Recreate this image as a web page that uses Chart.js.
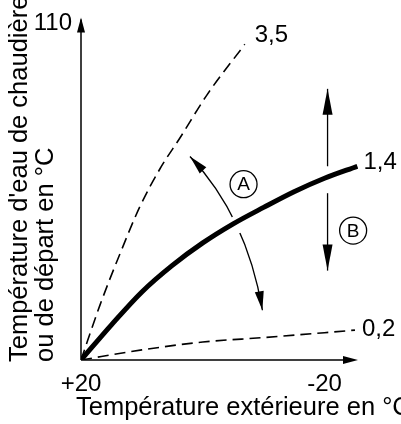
<!DOCTYPE html>
<html>
<head>
<meta charset="utf-8">
<script src="https://cdn.jsdelivr.net/npm/chart.js@4.4.1/dist/chart.umd.min.js"></script>
<style>
  html, body { margin: 0; padding: 0; background: #fff; }
  #wrap { width: 401px; height: 424px; }
</style>
</head>
<body>
<div id="wrap"><canvas id="myChart" width="401" height="424"></canvas></div>
<script>
// heating curves, outdoor temp -> boiler / flow temp
const outdoorSteep = [20, 16.9, 13.6, 10.3, 7, 3.7, -0.7, -6.9];
const flowSteep = [20, 34.6, 48.4, 61.1, 71.2, 79.5, 90.9, 104.4];
const outdoorMid = [20, 15, 10, 5, 0, -5, -10, -15, -20, -25.4];
const flowMid = [20, 29.4, 38.2, 45.3, 51.3, 56.4, 60.8, 65, 68.6, 71.8];
const outdoorFlat = [20, 10, 0, -10, -20, -25];
const flowFlat = [20, 22.7, 24.8, 26, 27.3, 28];
const curveLabels = ["3,5", "1,4", "0,2"];
const xTicks = [20, -20];
const yTicks = [110];
const xTitle = "Température extérieure en °C";
const yTitle = ["Température d'eau de chaudière", "ou de départ en °C"];

const FONT = "'Liberation Sans', Arial, sans-serif";

function points(xs, ys) {
    let pts = [];
    for (let i = 0; i < xs.length; i++) {
        pts.push({ x: xs[i], y: ys[i] });
    }
    return pts;
}

function arrowHead(ctx, x, y, angle, len, width) {
    ctx.save();
    ctx.translate(x, y);
    ctx.rotate(angle);
    ctx.beginPath();
    ctx.moveTo(0, 0);
    ctx.lineTo(-len, width / 2);
    ctx.lineTo(-len, -width / 2);
    ctx.closePath();
    ctx.fill();
    ctx.restore();
}

function circled(ctx, x, y, letter) {
    ctx.beginPath();
    ctx.arc(x, y, 13.5, 0, Math.PI * 2);
    ctx.lineWidth = 1.3;
    ctx.stroke();
    ctx.font = "19px " + FONT;
    ctx.textAlign = "center";
    ctx.textBaseline = "middle";
    ctx.fillText(letter, x, y + 1);
}

// the A / B markers, in data units (outdoor temp, flow temp)
const markA = { from: [2.1, 74.4], ctrl: [-7.2, 58.4], to: [-9.8, 33.3], cross: [-5.6, 56.2], label: [-6.7, 67] };
const markB = { x: -20.5, upper: [71.8, 92.5], lower: [64.6, 43.9], label: [-24.7, 54.6] };

const diagramPlugin = {
    id: "diagram",
    beforeDatasetsDraw(chart) {
        const ctx = chart.ctx;
        const xs = chart.scales.x, ys = chart.scales.y;
        const px = (p) => [xs.getPixelForValue(p[0]), ys.getPixelForValue(p[1])];
        ctx.save();
        ctx.strokeStyle = "#000";
        ctx.fillStyle = "#000";
        ctx.lineWidth = 1.3;
        // curved arrow A
        const p0 = px(markA.from), c = px(markA.ctrl), p2 = px(markA.to);
        ctx.beginPath();
        ctx.moveTo(p0[0], p0[1]);
        ctx.quadraticCurveTo(c[0], c[1], p2[0], p2[1]);
        ctx.stroke();
        arrowHead(ctx, p0[0], p0[1], Math.atan2(p0[1] - c[1], p0[0] - c[0]), 19, 9);
        arrowHead(ctx, p2[0], p2[1], Math.atan2(p2[1] - c[1], p2[0] - c[0]), 19, 9);
        // gap where it crosses the curve
        const g = px(markA.cross);
        ctx.fillStyle = "#fff";
        ctx.beginPath();
        ctx.arc(g[0], g[1], 9, 0, Math.PI * 2);
        ctx.fill();
        ctx.fillStyle = "#000";
        circled(ctx, ...px(markA.label), "A");
        // straight arrows B
        const bx = xs.getPixelForValue(markB.x);
        const segs = [markB.upper, markB.lower];
        for (const s of segs) {
            const y0 = ys.getPixelForValue(s[0]), y1 = ys.getPixelForValue(s[1]);
            ctx.beginPath();
            ctx.moveTo(bx, y0);
            ctx.lineTo(bx, y1);
            ctx.stroke();
            arrowHead(ctx, bx, y1, y1 < y0 ? -Math.PI / 2 : Math.PI / 2, 26, 10);
        }
        circled(ctx, ...px(markB.label), "B");
        ctx.restore();
    },
    afterDraw(chart) {
        const ctx = chart.ctx;
        const a = chart.chartArea;
        ctx.save();
        ctx.strokeStyle = "#000";
        ctx.fillStyle = "#000";
        ctx.lineWidth = 1.5;
        // axes with arrows
        ctx.beginPath();
        ctx.moveTo(a.left, a.bottom);
        ctx.lineTo(a.left, a.top - 4);
        ctx.moveTo(a.left, a.bottom);
        ctx.lineTo(a.right - 4, a.bottom);
        ctx.stroke();
        arrowHead(ctx, a.left, a.top - 6, -Math.PI / 2, 15, 8);
        arrowHead(ctx, a.right, a.bottom, 0, 15, 8);

        // curve labels at the end of each curve
        ctx.font = "24px " + FONT;
        ctx.textAlign = "left";
        ctx.textBaseline = "middle";
        const offs = [[10, -9], [6, -4], [7, -1]];
        chart.data.datasets.forEach((ds, i) => {
            const pts = chart.getDatasetMeta(i).data;
            const last = pts[pts.length - 1];
            ctx.fillText(curveLabels[i], last.x + offs[i][0], last.y + offs[i][1]);
        });

        // axis titles
        ctx.font = "25.5px " + FONT;
        ctx.textBaseline = "alphabetic";
        ctx.fillText(xTitle, a.left - 5, 415);
        ctx.translate(27, a.bottom + 2);
        ctx.rotate(-Math.PI / 2);
        ctx.fillText(yTitle[0], 0, 0);
        ctx.fillText(yTitle[1], 0, 26);
        ctx.restore();
    }
};

const data = {
    datasets: [
        {
            label: curveLabels[0],
            data: points(outdoorSteep, flowSteep),
            borderColor: "#000",
            borderWidth: 1.6,
            borderDash: [11, 6],
            pointRadius: 0,
            cubicInterpolationMode: "monotone"
        },
        {
            label: curveLabels[1],
            data: points(outdoorMid, flowMid),
            borderColor: "#000",
            borderWidth: 5,
            pointRadius: 0,
            cubicInterpolationMode: "monotone"
        },
        {
            label: curveLabels[2],
            data: points(outdoorFlat, flowFlat),
            borderColor: "#000",
            borderWidth: 1.6,
            borderDash: [11, 6],
            pointRadius: 0,
            cubicInterpolationMode: "monotone"
        }
    ]
};

const config = {
    type: "line",
    data: data,
    options: {
        responsive: false,
        animation: false,
        events: [],
        layout: { padding: { top: 21, right: 43, left: 0, bottom: 0 } },
        plugins: {
            legend: { display: false },
            tooltip: { enabled: false }
        },
        scales: {
            x: {
                type: "linear",
                reverse: true,
                min: -25.5,
                max: 20,
                grid: { display: false, drawTicks: false },
                border: { display: false },
                afterBuildTicks: (scale) => { scale.ticks = xTicks.map(v => ({ value: v })); },
                afterFit: (scale) => { scale.height = 64; },
                ticks: {
                    padding: 10,
                    maxRotation: 0,
                    autoSkip: false,
                    color: "#000",
                    font: { size: 24, family: FONT },
                    callback: (v) => (v > 0 ? "+" + v : String(v))
                }
            },
            y: {
                type: "linear",
                min: 20,
                max: 110,
                grid: { display: false, drawTicks: false },
                border: { display: false },
                afterBuildTicks: (scale) => { scale.ticks = yTicks.map(v => ({ value: v })); },
                afterFit: (scale) => { scale.width = 81; },
                ticks: {
                    padding: 9,
                    autoSkip: false,
                    color: "#000",
                    font: { size: 24, family: FONT }
                }
            }
        }
    },
    plugins: [diagramPlugin]
};

window.mychart = new Chart(document.getElementById("myChart"), config);
</script>
</body>
</html>
